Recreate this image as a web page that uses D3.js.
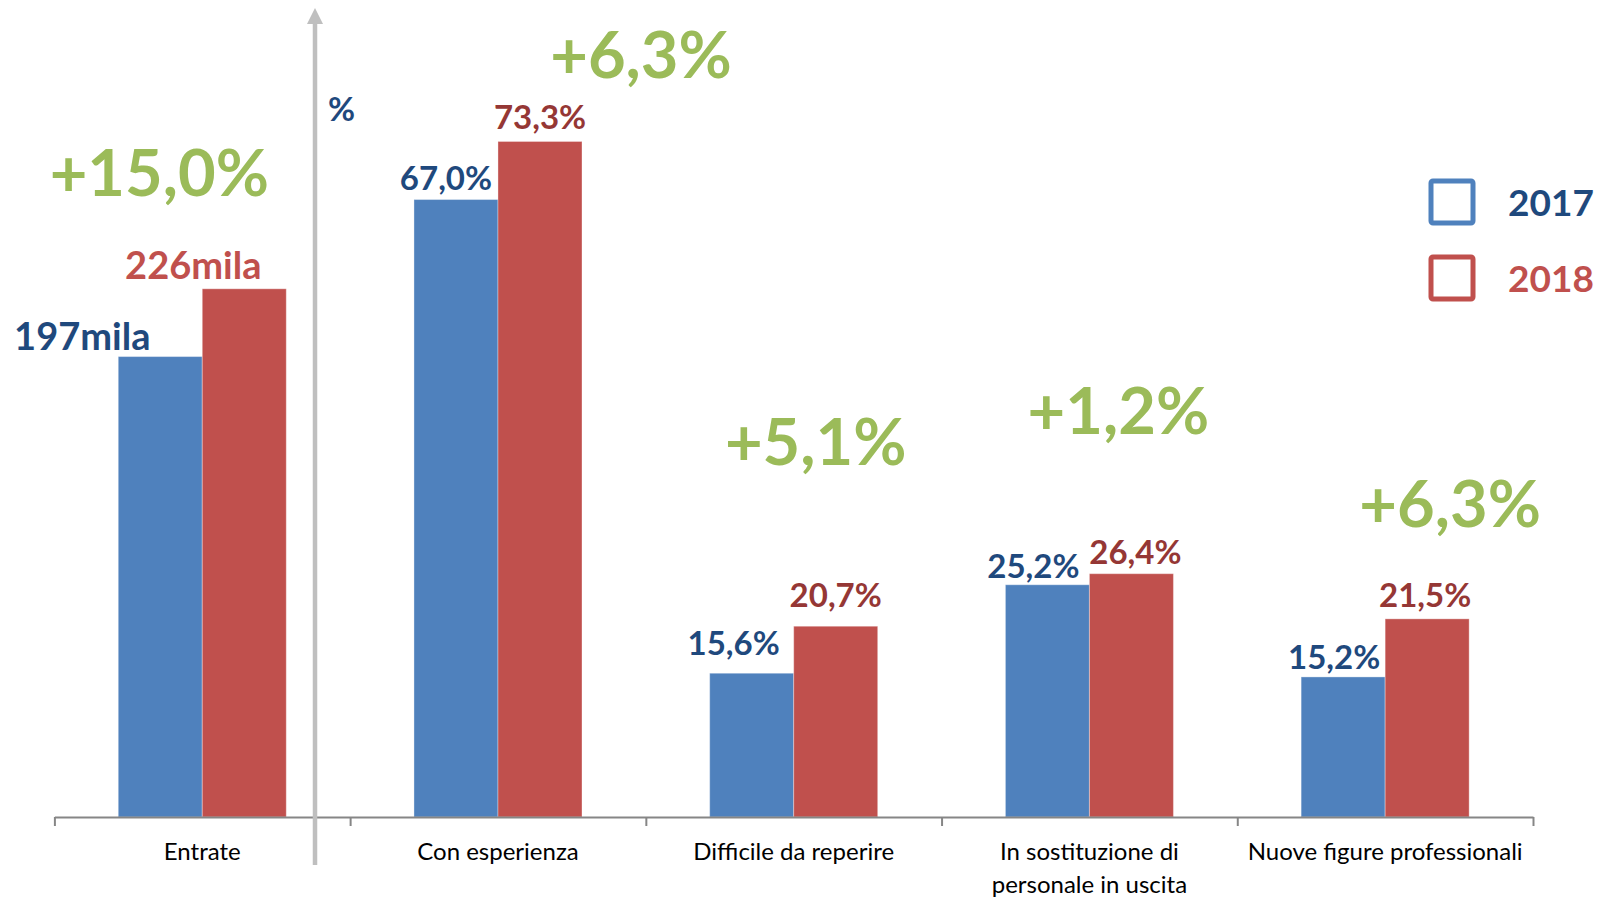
<!DOCTYPE html>
<html>
<head>
<meta charset="utf-8">
<script src="https://cdn.jsdelivr.net/npm/d3@7"></script>
<style>
  body { margin: 0; background: #fff; }
  svg { display: block; font-family: Lato, 'Open Sans', sans-serif; }
</style>
</head>
<body>
<div id="chart"></div>
<script>
// data
const categories = ['Entrate', 'Con esperienza', 'Difficile da reperire', 'In sostituzione di\npersonale in uscita', 'Nuove figure professionali']
const years = ['2017', '2018']
const values2017 = [197, 67.0, 15.6, 25.2, 15.2]
const values2018 = [226, 73.3, 20.7, 26.4, 21.5]
const valueLabels2017 = ['197mila', '67,0%', '15,6%', '25,2%', '15,2%']
const valueLabels2018 = ['226mila', '73,3%', '20,7%', '26,4%', '21,5%']
const changeLabels = ['+15,0%', '+6,3%', '+5,1%', '+1,2%', '+6,3%']

// label placement (offsets from bar tops / centres)
const labelShift2017 = [[-78, -7], [-10, -10], [-18, -18], [-14, -7], [-9, -8]]
const labelShift2018 = [[-51, -10], [0, -12], [0, -19], [4, -10], [-2, -12]]
const changeShift = [[-43, -93], [143, -63], [22, -161], [29, -140], [65, -92]]

const width = 1610
const height = 897
const baseY = 817

const svg = d3
  .select('#chart')
  .append('svg')
  .attr('width', width)
  .attr('height', height)

const xScale = d3
  .scaleBand()
  .domain(categories)
  .range([54.4, 1533])
  .padding(0)

const xSub = d3
  .scaleBand()
  .domain(years)
  .range([0, xScale.bandwidth()])
  .paddingInner(0)
  .paddingOuter(0.76)

const yPct = d3
  .scaleLinear()
  .domain([0, 88])
  .range([baseY, 6])

const yMila = d3
  .scaleLinear()
  .domain([0, 347])
  .range([baseY, 6])

const yFor = i => (i === 0 ? yMila : yPct)

const colors = { '2017': '#4F81BD', '2018': '#C0504D' }

const rows = categories.map((c, i) => ({
  cat: c,
  i: i,
  bars: [
    { year: '2017', value: values2017[i], label: valueLabels2017[i], shift: labelShift2017[i] },
    { year: '2018', value: values2018[i], label: valueLabels2018[i], shift: labelShift2018[i] }
  ]
}))

const groups = svg
  .selectAll('.cat')
  .data(rows)
  .enter()
  .append('g')
  .attr('class', 'cat')
  .attr('transform', d => 'translate(' + xScale(d.cat) + ',0)')

groups
  .selectAll('rect')
  .data(d => d.bars.map(b => Object.assign({ i: d.i }, b)))
  .enter()
  .append('rect')
  .attr('x', d => xSub(d.year))
  .attr('width', xSub.bandwidth())
  .attr('y', d => yFor(d.i)(d.value))
  .attr('height', d => baseY - yFor(d.i)(d.value))
  .attr('fill', d => colors[d.year])
  .attr('stroke', 'rgba(255,255,255,0.35)')
  .attr('stroke-width', 1)

// value labels
groups
  .selectAll('.val')
  .data(d => d.bars.map(b => Object.assign({ i: d.i }, b)))
  .enter()
  .append('text')
  .attr('class', 'val')
  .attr('x', d => xSub(d.year) + xSub.bandwidth() / 2 + d.shift[0])
  .attr('y', d => yFor(d.i)(d.value) + d.shift[1])
  .attr('text-anchor', 'middle')
  .attr('font-weight', 700)
  .attr('font-size', d => (d.i === 0 ? 38 : 33))
  .attr('fill', d => {
    if (d.year === '2017') return '#1F497D'
    return d.i === 0 ? '#C0504D' : '#953735'
  })
  .text(d => d.label)

// change labels in green
groups
  .append('text')
  .attr('class', 'change')
  .attr('x', d => xScale.bandwidth() / 2 + changeShift[d.i][0])
  .attr('y', d => yFor(d.i)(values2018[d.i]) + changeShift[d.i][1])
  .attr('text-anchor', 'middle')
  .attr('font-weight', 700)
  .attr('font-size', 65)
  .attr('fill', '#9BBB59')
  .text(d => changeLabels[d.i])

// x axis with boundary ticks
const tickScale = d3
  .scaleLinear()
  .domain([0, categories.length])
  .range(xScale.range())

const xAxis = svg
  .append('g')
  .attr('transform', 'translate(0,' + baseY + ')')
  .call(
    d3
      .axisBottom(tickScale)
      .tickValues(d3.range(categories.length + 1))
      .tickSize(9)
      .tickSizeOuter(0)
      .tickFormat('')
  )

xAxis.select('.domain').attr('stroke', '#868686').attr('stroke-width', 2)
xAxis.selectAll('.tick line').attr('stroke', '#868686').attr('stroke-width', 2)

// category names
const catLabels = svg
  .selectAll('.cat-label')
  .data(categories)
  .enter()
  .append('text')
  .attr('class', 'cat-label')
  .attr('text-anchor', 'middle')
  .attr('font-size', 24)
  .attr('fill', '#000')
  .attr('transform', d => 'translate(' + (xScale(d) + xScale.bandwidth() / 2) + ',860)')

catLabels
  .selectAll('tspan')
  .data(d => d.split('\n'))
  .enter()
  .append('tspan')
  .attr('x', 0)
  .attr('dy', (d, i) => (i === 0 ? 0 : 33))
  .text(d => d)

// vertical arrow separating the % section
const arrowX = 315
svg
  .append('line')
  .attr('x1', arrowX)
  .attr('x2', arrowX)
  .attr('y1', 865)
  .attr('y2', 22)
  .attr('stroke', '#BFBFBF')
  .attr('stroke-width', 4.5)

svg
  .append('path')
  .attr('d', d3.line()([[arrowX - 8, 24], [arrowX, 8], [arrowX + 8, 24]]) + 'Z')
  .attr('fill', '#BFBFBF')

svg
  .append('text')
  .attr('x', 328)
  .attr('y', 121)
  .attr('font-weight', 700)
  .attr('font-size', 33)
  .attr('fill', '#1F497D')
  .text('%')

// legend
const legend = svg
  .selectAll('.legend')
  .data(years)
  .enter()
  .append('g')
  .attr('class', 'legend')
  .attr('transform', (d, i) => 'translate(1431,' + (181 + i * 76) + ')')

legend
  .append('rect')
  .attr('width', 42)
  .attr('height', 42)
  .attr('rx', 2)
  .attr('fill', 'none')
  .attr('stroke', d => colors[d])
  .attr('stroke-width', 5)

legend
  .append('text')
  .attr('x', 77)
  .attr('y', 35)
  .attr('font-weight', 700)
  .attr('font-size', 37)
  .attr('fill', d => (d === '2017' ? '#1F497D' : '#C0504D'))
  .text(d => d)
</script>
</body>
</html>
